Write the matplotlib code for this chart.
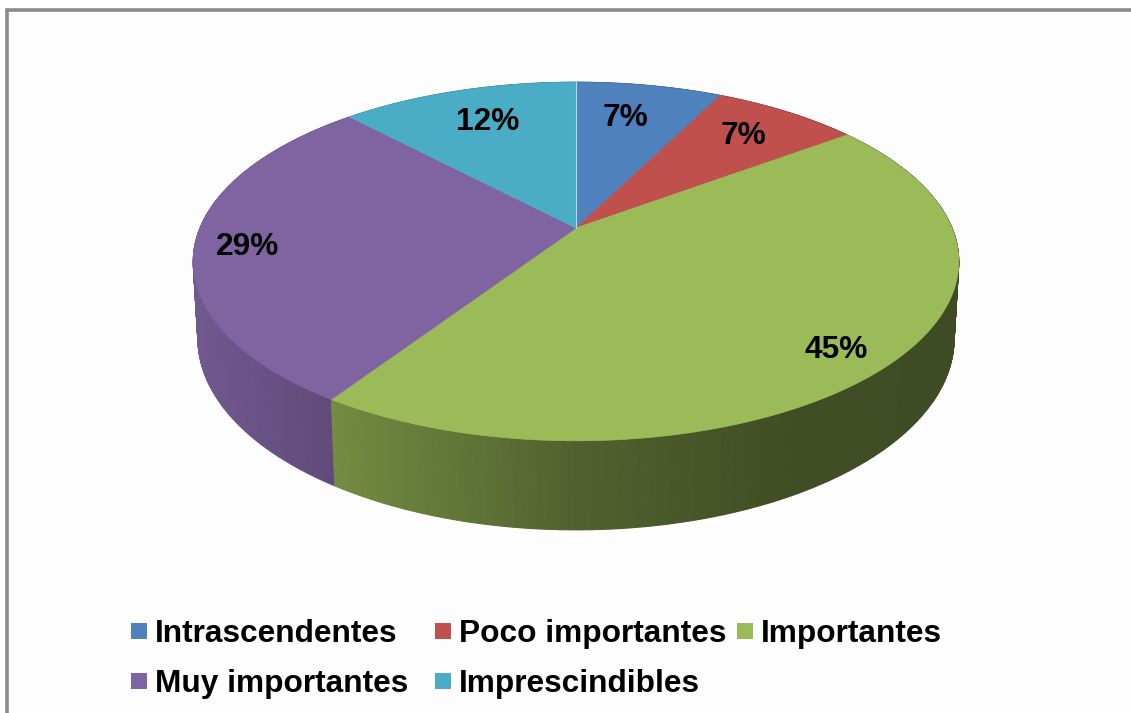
import numpy as np
import matplotlib
matplotlib.use('Agg')
import matplotlib.pyplot as plt
from matplotlib.collections import PolyCollection
from matplotlib.patches import Polygon, Rectangle

plt.rcParams['font.family'] = ['Liberation Sans', 'DejaVu Sans']

# Data
categories = ['Intrascendentes', 'Poco importantes', 'Importantes',
              'Muy importantes', 'Imprescindibles']
values = [7.4, 7.4, 44.45, 28.75, 12.0]
pct_labels = ['7%', '7%', '45%', '29%', '12%']
colors = ['#4F81BD', '#C0504D', '#9BBB59', '#8064A2', '#4BACC6']

# Everything below works in pixels of the 1131x713 picture
CX, CY = 576, 228      # apex of the pie
A, B = 376, 173        # radii before perspective
K = 0.187              # perspective strength front to back
DEPTH = 76             # drop of the lower rim
E = 0.012              # lower rim is a bit further from the camera

label_pos = [(625, 118), (743, 136), (836, 350), (248, 247), (488, 122)]
legend_pos = [(131, 631), (435, 631), (737, 631), (131, 681), (435, 681)]


def top_rim(theta):
    w = 1 + K * np.cos(theta)
    return CX + A * np.sin(theta) / w, CY - B * np.cos(theta) / w


def low_rim(theta):
    w = 1 + E + K * np.cos(theta)
    return CX + A * np.sin(theta) / w, CY + (DEPTH - B * np.cos(theta)) / w


def side_shade(x):
    return np.interp(x, [200, 338, 576, 800, 960], [0.88, 0.74, 0.52, 0.41, 0.40])


fig = plt.figure(figsize=(11.31, 7.13), dpi=100)
ax = fig.add_axes([0, 0, 1, 1])
ax.set_xlim(0, 1131)
ax.set_ylim(713, 0)
ax.axis('off')

# chart frame, open to the right and bottom of the picture
ax.add_patch(Rectangle((7, 10), 1140, 720, facecolor='#FDFDFD',
                       edgecolor='#8A8A8A', linewidth=2.6))

fractions = np.cumsum([0] + values) / sum(values) * 2 * np.pi

# side wall, back to front
quads, quad_colors, depth = [], [], []
for i, col in enumerate(colors):
    n = max(int(values[i] * 8), 2)
    edges = np.linspace(fractions[i], fractions[i + 1], n + 1)
    base = np.array(matplotlib.colors.to_rgb(col))
    for t0, t1 in zip(edges[:-1], edges[1:]):
        xt0, yt0 = top_rim(t0)
        xt1, yt1 = top_rim(t1)
        xb0, yb0 = low_rim(t0)
        xb1, yb1 = low_rim(t1)
        quads.append([(xt0, yt0), (xt1, yt1), (xb1, yb1), (xb0, yb0)])
        quad_colors.append(base * side_shade((xt0 + xt1) / 2))
        depth.append(np.cos((t0 + t1) / 2))
order = np.argsort(depth)[::-1]
ax.add_collection(PolyCollection([quads[j] for j in order],
                                 facecolors=[quad_colors[j] for j in order],
                                 edgecolors=[quad_colors[j] for j in order],
                                 linewidths=0.8))

# top face
for i, col in enumerate(colors):
    t = np.linspace(fractions[i], fractions[i + 1], 200)
    xs, ys = top_rim(t)
    pts = np.column_stack([np.r_[CX, xs], np.r_[CY, ys]])
    ax.add_patch(Polygon(pts, closed=True, facecolor=col, edgecolor=col, linewidth=0.5))

# thin light line between the two back slices
x0, y0 = top_rim(0.0)
ax.plot([CX, x0], [CY, y0], color='#BFD3E6', linewidth=0.8)

for i in range(len(values)):
    ax.text(label_pos[i][0], label_pos[i][1], pct_labels[i], fontsize=22.8,
            fontweight='bold', color='black', ha='center', va='center')

# legend
for i, name in enumerate(categories):
    lx, ly = legend_pos[i]
    ax.add_patch(Rectangle((lx, ly - 8), 16, 16, facecolor=colors[i], edgecolor='none'))
    ax.text(lx + 24, ly + 11, name, fontsize=22.8, fontweight='bold',
            color='black', ha='left', va='baseline')

plt.savefig('out.png', dpi=100)
plt.close()
